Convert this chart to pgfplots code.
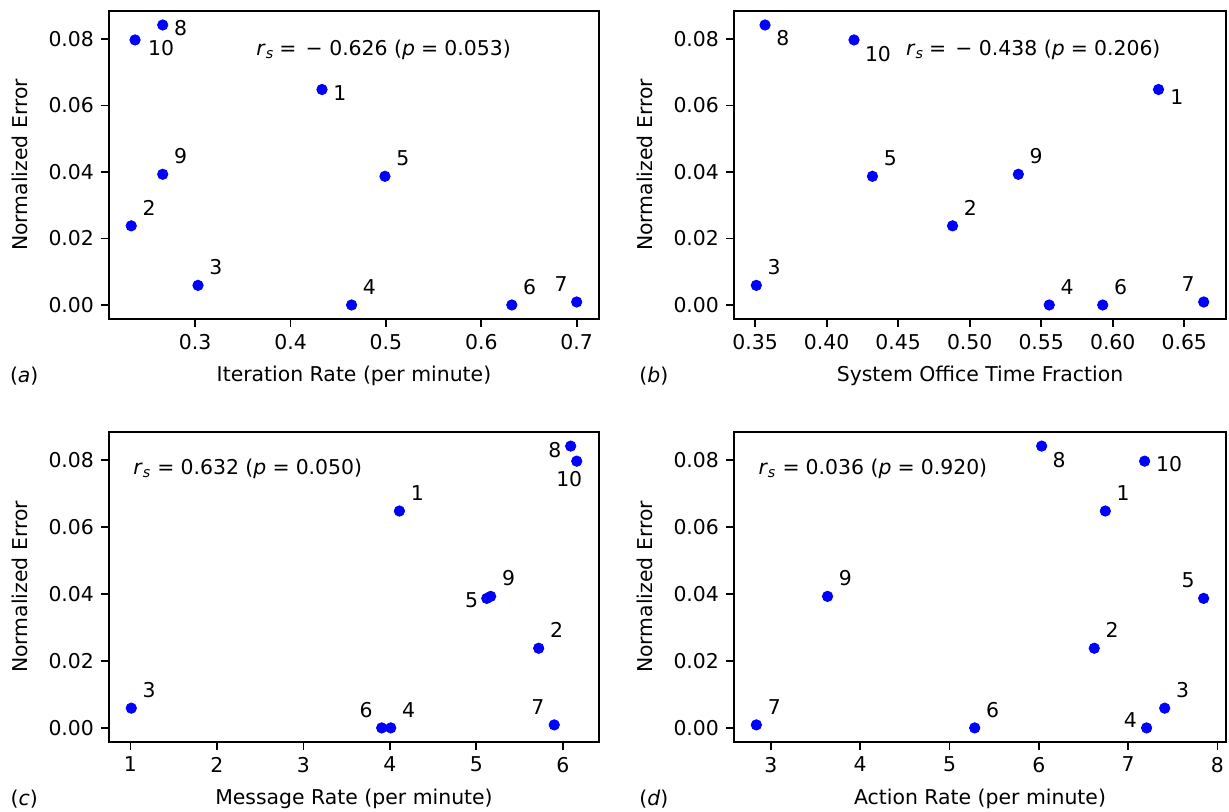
\documentclass[border=0pt]{standalone}
\usepackage{pgfplots}
\pgfplotsset{compat=1.18}
\usepackage{fontspec}
\setmainfont{DejaVu Sans}

\pgfplotsset{
  panel/.style={
    scale only axis, anchor=south west, clip=false,
    axis line style={line width=0.9pt},
    every tick/.style={black, line width=0.9pt},
    tick align=outside, major tick length=4pt,
    xtick pos=bottom, ytick pos=left,
    ymin=-0.00421, ymax=0.08841,
    ytick={0,0.02,0.04,0.06,0.08},
    scaled y ticks=false, scaled x ticks=false,
    yticklabel style={/pgf/number format/fixed, /pgf/number format/fixed zerofill, /pgf/number format/precision=2},
    /pgf/number format/assume math mode=true,
    ylabel={Normalized Error},
    ylabel style={at={(axis description cs:-0.181,0.5)}, anchor=center},
    xlabel style={at={(axis description cs:0.5,-0.185)}, anchor=center},
    font=\fontsize{10.2}{12}\selectfont,
    every node/.append style={font=\fontsize{10.2}{12}\selectfont},
  },
  pts/.style={only marks, mark=*, mark size=2.6pt, color=blue},
}
\tikzset{
  lab/.style={inner sep=0pt},
  ur/.style={lab, anchor=base west, xshift=5.5pt, yshift=5.4pt},
  rd/.style={lab, anchor=base west, xshift=5.5pt, yshift=-5.4pt},
  ul/.style={lab, anchor=base east, xshift=-4.3pt, yshift=5.4pt},
  ld/.style={lab, anchor=base east, xshift=-4.5pt, yshift=-5.5pt},
}
\newcommand{\eqs}{\hspace{0.3em}=\hspace{0.3em}}
\newcommand{\eqm}{\hspace{0.25em}=\hspace{0.45em}−\hspace{0.32em}}

\begin{document}
\begin{tikzpicture}
\path[use as bounding box] (0,0) rectangle (614.5pt,406pt);

% (a)
\begin{axis}[panel, at={(54.5pt,246.5pt)}, width=245pt, height=154pt,
  xmin=0.2097, xmax=0.7234,
  xtick={0.3,0.4,0.5,0.6,0.7},
  xticklabel style={/pgf/number format/fixed, /pgf/number format/fixed zerofill, /pgf/number format/precision=1},
  xlabel={Iteration Rate (per minute)}]
\addplot[pts] table {
x y
0.433 0.0648
0.233 0.0238
0.303 0.0059
0.464 0.0000
0.499 0.0387
0.632 0.0000
0.700 0.0009
0.266 0.0842
0.266 0.0393
0.237 0.0797
};
\node[rd] at (axis cs:0.433,0.0648) {1};
\node[ur] at (axis cs:0.233,0.0238) {2};
\node[ur] at (axis cs:0.303,0.0059) {3};
\node[ur] at (axis cs:0.464,0.0000) {4};
\node[ur] at (axis cs:0.499,0.0387) {5};
\node[ur] at (axis cs:0.632,0.0000) {6};
\node[ul] at (axis cs:0.700,0.0009) {7};
\node[lab, anchor=base west, xshift=5.5pt, yshift=-5.5pt] at (axis cs:0.266,0.0842) {8};
\node[ur] at (axis cs:0.266,0.0393) {9};
\node[lab, anchor=base west, xshift=6.3pt, yshift=-8pt] at (axis cs:0.237,0.0797) {10};
\node[lab, anchor=west] at (axis description cs:0.30,0.875) {\textit{r}\textsubscript{\textit{s}}\eqm 0.626 (\textit{p}\eqs 0.053)};
\node at (axis description cs:-0.173,-0.185) {(\textit{a})};
\end{axis}

% (b)
\begin{axis}[panel, at={(367pt,246.5pt)}, width=246pt, height=154pt,
  xmin=0.3352, xmax=0.6792,
  xtick={0.35,0.40,0.45,0.50,0.55,0.60,0.65},
  xticklabel style={/pgf/number format/fixed, /pgf/number format/fixed zerofill, /pgf/number format/precision=2},
  xlabel={System Office Time Fraction}]
\addplot[pts] table {
x y
0.632 0.0648
0.488 0.0238
0.3508 0.0059
0.5556 0.0000
0.432 0.0387
0.593 0.0000
0.6636 0.0009
0.3569 0.0842
0.534 0.0393
0.4191 0.0797
};
\node[lab, anchor=base west, xshift=5.7pt, yshift=-7.3pt] at (axis cs:0.632,0.0648) {1};
\node[ur] at (axis cs:0.488,0.0238) {2};
\node[ur] at (axis cs:0.3508,0.0059) {3};
\node[ur] at (axis cs:0.5556,0.0000) {4};
\node[ur] at (axis cs:0.432,0.0387) {5};
\node[ur] at (axis cs:0.593,0.0000) {6};
\node[ul] at (axis cs:0.6636,0.0009) {7};
\node[lab, anchor=base west, xshift=5.5pt, yshift=-10.4pt] at (axis cs:0.3569,0.0842) {8};
\node[ur] at (axis cs:0.534,0.0393) {9};
\node[lab, anchor=base west, xshift=5.3pt, yshift=-10.8pt] at (axis cs:0.4191,0.0797) {10};
\node[lab, anchor=west] at (axis description cs:0.349,0.875) {\textit{r}\textsubscript{\textit{s}}\eqm 0.438 (\textit{p}\eqs 0.206)};
\node at (axis description cs:-0.163,-0.185) {(\textit{b})};
\end{axis}

% (c)
\begin{axis}[panel, at={(54.5pt,35pt)}, width=245pt, height=155pt,
  xmin=0.7525, xmax=6.4175,
  xtick={1,2,3,4,5,6},
  xlabel={Message Rate (per minute)}]
\addplot[pts] table {
x y
4.11 0.0648
5.72 0.0238
1.01 0.0059
4.01 0.0000
5.12 0.0387
3.905 0.0000
5.90 0.0009
6.09 0.0842
5.165 0.0393
6.16 0.0797
};
\node[ur] at (axis cs:4.11,0.0648) {1};
\node[ur] at (axis cs:5.72,0.0238) {2};
\node[ur] at (axis cs:1.01,0.0059) {3};
\node[ur] at (axis cs:4.01,0.0000) {4};
\node[lab, anchor=base east, xshift=-4.1pt, yshift=-4.8pt] at (axis cs:5.12,0.0387) {5};
\node[ul] at (axis cs:3.905,0.0000) {6};
\node[lab, anchor=base east, xshift=-4.7pt, yshift=5.4pt] at (axis cs:5.90,0.0009) {7};
\node[ld] at (axis cs:6.09,0.0842) {8};
\node[lab, anchor=base, xshift=-3.75pt, yshift=-12.5pt] at (axis cs:6.16,0.0797) {10};
\node[ur] at (axis cs:5.165,0.0393) {9};
\node[lab, anchor=west] at (axis description cs:0.049,0.880) {\textit{r}\textsubscript{\textit{s}}\eqs 0.632 (\textit{p}\eqs 0.050)};
\node at (axis description cs:-0.173,-0.185) {(\textit{c})};
\end{axis}

% (d)
\begin{axis}[panel, at={(367pt,35pt)}, width=246pt, height=155pt,
  xmin=2.5865, xmax=8.0965,
  xtick={3,4,5,6,7,8},
  xlabel={Action Rate (per minute)}]
\addplot[pts] table {
x y
6.745 0.0648
6.621 0.0238
7.41 0.0059
7.207 0.0000
7.846 0.0387
5.282 0.0000
2.837 0.0009
6.032 0.0842
3.634 0.0393
7.185 0.0797
};
\node[ur] at (axis cs:6.745,0.0648) {1};
\node[ur] at (axis cs:6.621,0.0238) {2};
\node[ur] at (axis cs:7.41,0.0059) {3};
\node[lab, anchor=base east, xshift=-4.7pt, yshift=0pt] at (axis cs:7.207,0.0000) {4};
\node[ul] at (axis cs:7.846,0.0387) {5};
\node[ur] at (axis cs:5.282,0.0000) {6};
\node[ur] at (axis cs:2.837,0.0009) {7};
\node[lab, anchor=base west, xshift=5.3pt, yshift=-10.6pt] at (axis cs:6.032,0.0842) {8};
\node[ur] at (axis cs:3.634,0.0393) {9};
\node[lab, anchor=base west, xshift=5.5pt, yshift=-5pt] at (axis cs:7.185,0.0797) {10};
\node[lab, anchor=west] at (axis description cs:0.049,0.880) {\textit{r}\textsubscript{\textit{s}}\eqs 0.036 (\textit{p}\eqs 0.920)};
\node at (axis description cs:-0.163,-0.185) {(\textit{d})};
\end{axis}
\end{tikzpicture}
\end{document}
